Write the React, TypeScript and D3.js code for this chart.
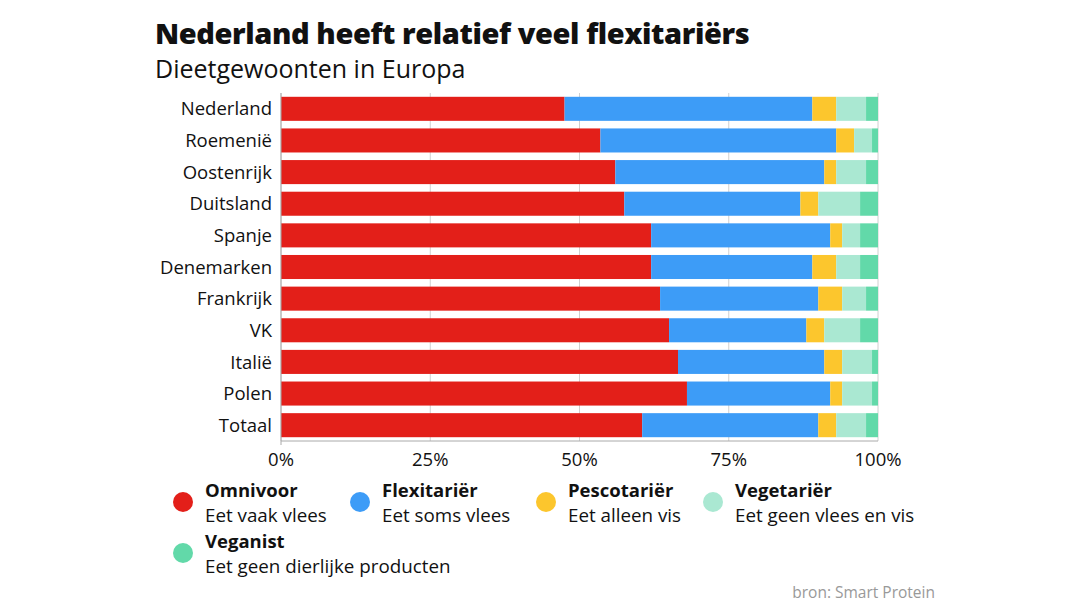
import React from "react";
import * as d3 from "d3";

const countries = ["Nederland", "Roemenië", "Oostenrijk", "Duitsland", "Spanje", "Denemarken", "Frankrijk", "VK", "Italië", "Polen", "Totaal"];
const omnivoor = [47.5, 53.5, 56, 57.5, 62, 62, 63.5, 65, 66.5, 68, 60.5];
const flexitarier = [41.5, 39.5, 35, 29.5, 30, 27, 26.5, 23, 24.5, 24, 29.5];
const pescotarier = [4, 3, 2, 3, 2, 4, 4, 3, 3, 2, 3];
const vegetarier = [5, 3, 5, 7, 3, 4, 4, 6, 5, 5, 5];
const veganist = [2, 1, 2, 3, 3, 3, 2, 3, 1, 1, 2];

const seriesKeys = ["Omnivoor", "Flexitariër", "Pescotariër", "Vegetariër", "Veganist"];
const seriesDesc = ["Eet vaak vlees", "Eet soms vlees", "Eet alleen vis", "Eet geen vlees en vis", "Eet geen dierlijke producten"];
const seriesColors = ["#e31f19", "#3d9cf7", "#fcc62d", "#aae8d2", "#62d9a9"];
const xTicks = [0, 25, 50, 75, 100];

const FONT = "'Open Sans', sans-serif";

export default function App() {
  const W = 1080, H = 608;
  const x = d3.scaleLinear().domain([0, 100]).range([281, 878]);
  const y = d3.scaleBand<string>().domain(countries).range([93, 441]).paddingInner(0.24).paddingOuter(0.12);

  const rows = countries.map((c, i) => ({
    country: c,
    Omnivoor: omnivoor[i],
    "Flexitariër": flexitarier[i],
    "Pescotariër": pescotarier[i],
    "Vegetariër": vegetarier[i],
    Veganist: veganist[i],
  }));
  const stacked = d3.stack<any>().keys(seriesKeys)(rows);

  const legendPos = [
    { cx: 183, cy: 502 },
    { cx: 360, cy: 502 },
    { cx: 546, cy: 502 },
    { cx: 713, cy: 502 },
    { cx: 183, cy: 553 },
  ];

  return (
    <svg width={W} height={H} style={{ position: "absolute", left: 0, top: 0, background: "#fff" }} fontFamily={FONT}>
      <rect width={W} height={H} fill="#fff" />
      <text x={155} y={44} fontSize={29} fontWeight={800} fill="#111" letterSpacing={-0.4}>Nederland heeft relatief veel flexitariërs</text>
      <text x={155} y={78} fontSize={25} fill="#111">Dieetgewoonten in Europa</text>

      {xTicks.map((t) => (
        <line key={"g" + t} x1={x(t)} x2={x(t)} y1={93} y2={441} stroke="#d0d0d0" strokeWidth={1} />
      ))}

      {stacked.map((s, si) => (
        <g key={s.key} fill={seriesColors[si]}>
          {s.map((d, i) => (
            <rect key={i} x={x(d[0])} y={y(countries[i])!} width={x(d[1]) - x(d[0])} height={y.bandwidth()} />
          ))}
        </g>
      ))}

      <line x1={281} x2={281} y1={93} y2={445} stroke="#aaa" />
      <line x1={281} x2={878} y1={441} y2={441} stroke="#aaa" />

      {countries.map((c) => (
        <text key={c} x={272} y={y(c)! + y.bandwidth() / 2} dy="0.36em" textAnchor="end" fontSize={18.5} fill="#111">{c}</text>
      ))}

      {xTicks.map((t) => (
        <text key={"t" + t} x={x(t)} y={466} textAnchor="middle" fontSize={18.5} fill="#111">{t}%</text>
      ))}

      {seriesKeys.map((k, i) => (
        <g key={k}>
          <circle cx={legendPos[i].cx} cy={legendPos[i].cy} r={10} fill={seriesColors[i]} />
          <text x={legendPos[i].cx + 22} y={legendPos[i].cy - 5} fontSize={18.5} fontWeight={700} fill="#111">{k}</text>
          <text x={legendPos[i].cx + 22} y={legendPos[i].cy + 20} fontSize={18.8} fill="#111">{seriesDesc[i]}</text>
        </g>
      ))}

      <text x={935} y={598} textAnchor="end" fontSize={15.5} fill="#999">bron: Smart Protein</text>
    </svg>
  );
}
